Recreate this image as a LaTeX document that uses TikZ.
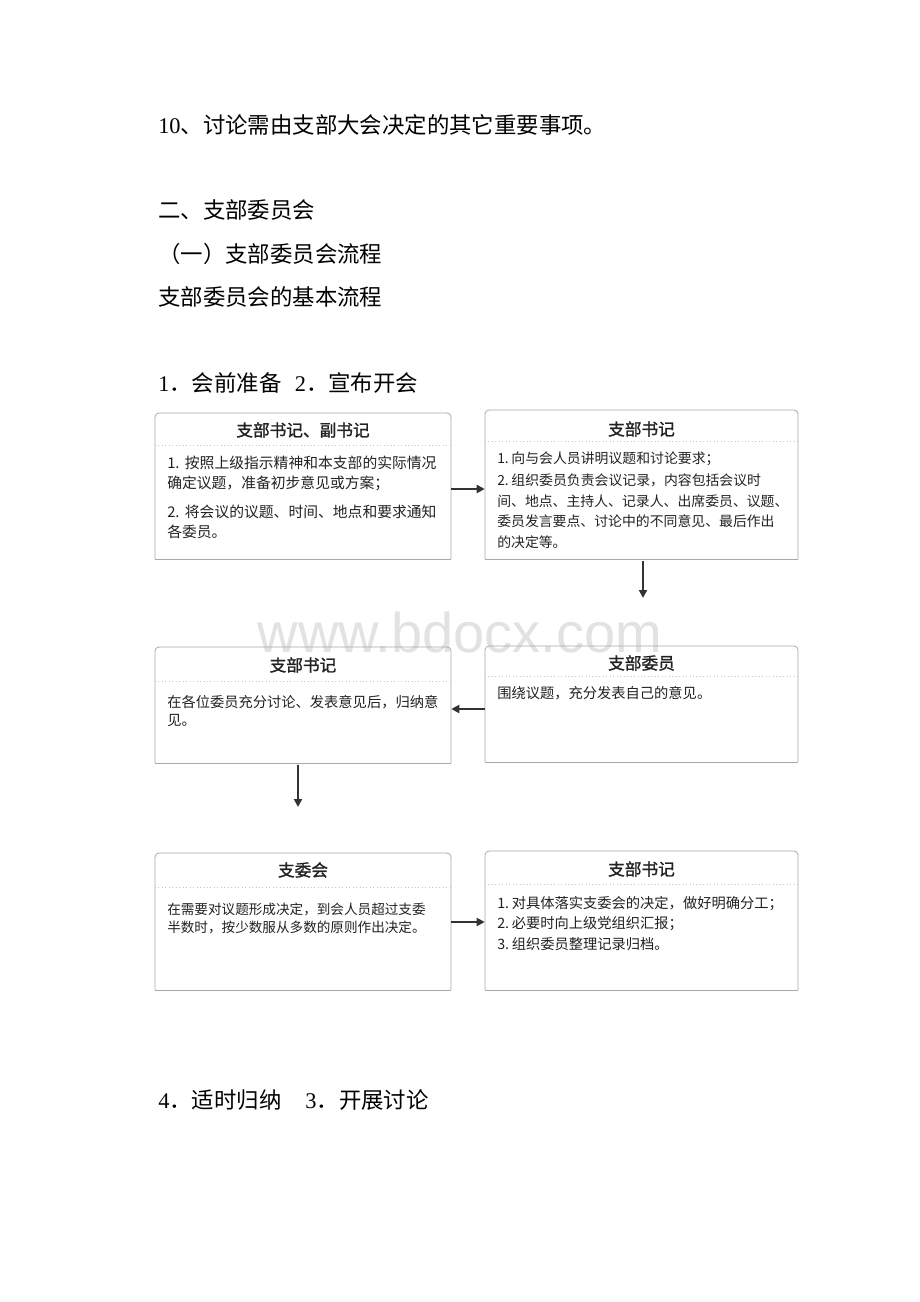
\documentclass[tikz,border=0pt]{standalone}
\usepackage{fontspec}
\setmainfont{Liberation Serif}
\setsansfont{Liberation Sans}
\newfontfamily\cjk{Noto Sans CJK SC}
\newfontfamily\cjkb{Noto Sans CJK SC}[FakeBold=1.3]
\usetikzlibrary{arrows.meta,fit}
\definecolor{boxgray}{HTML}{A8A8A8}
\definecolor{sepgray}{HTML}{C4C4C4}
\definecolor{inkgray}{HTML}{222222}
\definecolor{arrgray}{HTML}{333333}
\definecolor{wmgray}{HTML}{E2E2E2}
\newcommand{\flowbox}[6]{%
  \draw[boxline,rounded corners=3pt] (#2,#5) -- (#2,#3) -- (#4,#3) -- (#4,#5);
  \draw[boxline] (#2,#5) -- (#4,#5);
  \draw[sepline] (#2,#6) -- (#4,#6);
  \node[fit={(#2,#3)(#4,#5)},inner sep=0pt,draw=none] (#1) {};
}
\newcommand{\hd}[1]{{\cjk #1}}
\begin{document}
\begin{tikzpicture}[x=0.75pt,y=-0.75pt,
  boxline/.style={draw=boxgray,line width=0.6pt},
  sepline/.style={draw=sepgray,line width=0.6pt,dotted},
  heading/.style={anchor=base west,inner sep=0pt,text=black,font=\fontsize{16.8}{20}\selectfont},
  title/.style={inner sep=0pt,text=inkgray,font=\cjkb\fontsize{12.5}{15}\selectfont},
  body/.style={anchor=base west,inner sep=0pt,align=left,text=inkgray},
  arr/.style={draw=arrgray,line width=1.5pt,-{Triangle[length=6pt,width=6pt]}},
  watermark/.style={inner sep=0pt,text depth=0pt,text=wmgray,font=\sffamily\fontsize{42}{42}\selectfont}]
\useasboundingbox (0,0) rectangle (920,1302);
\fill[white] (0,0) rectangle (920,1302);

% headings
\node[heading] (h1) at (158,133.5) {10\hd{、讨论需由支部大会决定的其它重要事项。}};
\node[heading] (h2) at (158,218.5) {\hd{二、支部委员会}};
\node[heading] (h3) at (158,262.5) {\hd{（一）支部委员会流程}};
\node[heading] (h4) at (158,305.5) {\hd{支部委员会的基本流程}};
\node[heading] (h5) at (158,391.5) {1\hd{．会前准备}\hspace{10pt}2\hd{．宣布开会}};
\node[heading] (h6) at (158,1108.5) {4\hd{．适时归纳}\hspace{18pt}3\hd{．开展讨论}};

% watermark
\node[watermark,anchor=base] (wm) at (460,652) {www.bdocx.com};

% boxes
\flowbox{b1}{155}{413}{451}{559}{445}
\flowbox{b2}{485}{410}{798}{559}{441}
\flowbox{b3}{155}{647}{451}{763}{681}
\flowbox{b4}{485}{646}{798}{762}{676}
\flowbox{b5}{155}{853}{451}{990}{887}
\flowbox{b6}{485}{851}{798}{990}{884}

% titles
\node[title] (t1) at (303,430) {支部书记、副书记};
\node[title] (t2) at (641.5,429) {支部书记};
\node[title] (t3) at (303,665) {支部书记};
\node[title] (t4) at (641.5,663) {支部委员};
\node[title] (t5) at (303,870) {支委会};
\node[title] (t6) at (641.5,869) {支部书记};

% bodies (anchored at the baseline of their last line)
\node[body,font=\cjk\fontsize{11.1}{15}\selectfont] (c1) at (167,537.5)
  {1.\hspace{4pt}按照上级指示精神和本支部的实际情况\\确定议题，准备初步意见或方案；\\[6.75pt]2.\hspace{4pt}将会议的议题、时间、地点和要求通知\\各委员。};
\node[body,font=\cjk\fontsize{10.4}{15.4}\selectfont] (c2) at (497,547.2)
  {1.\hspace{2pt}向与会人员讲明议题和讨论要求；\\[1.2pt]2.\hspace{2pt}组织委员负责会议记录，内容包括会议时\\间、地点、主持人、记录人、出席委员、议题、\\委员发言要点、讨论中的不同意见、最后作出\\的决定等。};
\node[body,font=\cjk\fontsize{10.7}{13.7}\selectfont] (c3) at (167,725.8)
  {在各位委员充分讨论、发表意见后，归纳意\\见。};
\node[body,font=\cjk\fontsize{10.7}{15}\selectfont] (c4) at (497,698.5)
  {围绕议题，充分发表自己的意见。};
\node[body,font=\cjk\fontsize{10.2}{13.7}\selectfont] (c5) at (167,932.3)
  {在需要对议题形成决定，到会人员超过支委\\半数时，按少数服从多数的原则作出决定。};
\node[body,font=\cjk\fontsize{10.7}{15.3}\selectfont] (c6) at (497,949.3)
  {1.\hspace{2pt}对具体落实支委会的决定，做好明确分工；\\2.\hspace{2pt}必要时向上级党组织汇报；\\3.\hspace{2pt}组织委员整理记录归档。};

% connectors
\coordinate (e2) at (643,598);
\coordinate (e3) at (298,807);
\draw[arr] (b1.east |- 0,489) -- (b2.west |- 0,489);
\draw[arr] (643,561) -- (e2);
\draw[arr] (b4.west |- 0,709) -- (b3.east |- 0,709);
\draw[arr] (298,765) -- (e3);
\draw[arr] (b5.east |- 0,922) -- (b6.west |- 0,922);
\end{tikzpicture}
\end{document}
